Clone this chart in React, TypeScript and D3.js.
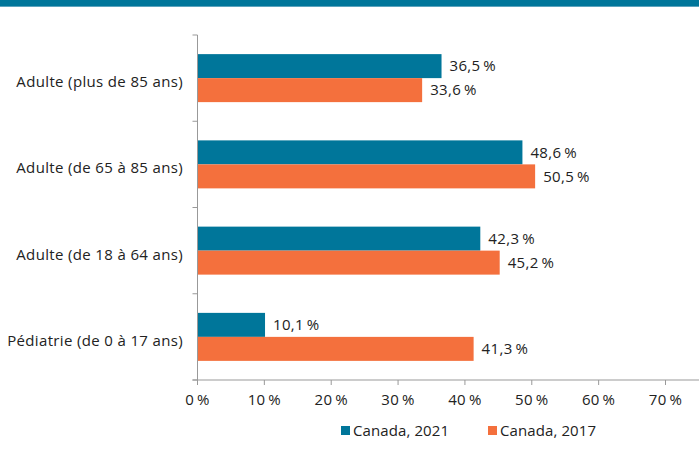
import React from "react";
import * as d3 from "d3";

const categories = [
  "Adulte (plus de 85 ans)",
  "Adulte (de 65 à 85 ans)",
  "Adulte (de 18 à 64 ans)",
  "Pédiatrie (de 0 à 17 ans)",
];
const series2021 = [36.5, 48.6, 42.3, 10.1];
const series2017 = [33.6, 50.5, 45.2, 41.3];
const seriesNames = ["Canada, 2021", "Canada, 2017"];
const xTicks = [0, 10, 20, 30, 40, 50, 60, 70];

const W = 699;
const H = 455;
const TEAL = "#00769A";
const ORANGE = "#F4703D";
const FONT = "'Open Sans', 'Liberation Sans', sans-serif";
const FS = 15;
const LS = 0.35;

const fmt = (v: number) => v.toFixed(1).replace(".", ",") + "\u2009%";

export default function App() {
  const x = d3.scaleLinear().domain([0, 70]).range([197.5, 665.5]);
  const y = d3.scaleBand<string>().domain(categories).range([35, 380]);
  const inner = d3
    .scaleBand<string>()
    .domain(seriesNames)
    .range([0, 48]);
  const groupOffset = (y.bandwidth() - 48) / 2;
  const data = [series2021, series2017];
  const colors = [TEAL, ORANGE];
  const bandTicks = [...categories.map((c) => y(c)!), 380];

  return (
    <svg
      width={W}
      height={H}
      style={{ position: "absolute", left: 0, top: 0, fontFamily: FONT }}
    >
      <rect x={0} y={0} width={W} height={6} fill={TEAL} />
      <rect x={0} y={6} width={W} height={1} fill="#5CA3BD" />

      {/* bars */}
      {categories.map((c, i) =>
        seriesNames.map((s, j) => {
          const v = data[j][i];
          const by = y(c)! + groupOffset + inner(s)!;
          return (
            <g key={c + s}>
              <rect
                x={x(0)}
                y={by}
                width={x(v) - x(0)}
                height={inner.bandwidth()}
                fill={colors[j]}
              />
              <text
                x={x(v) + 8}
                y={by + inner.bandwidth() / 2 + 5.3}
                fontSize={FS}
                letterSpacing={LS}
                fill="#222"
              >
                {fmt(v)}
              </text>
            </g>
          );
        })
      )}

      {/* y axis */}
      <line x1={x(0)} x2={x(0)} y1={35} y2={385} stroke="#999" strokeWidth={1} />
      {bandTicks.map((t, i) => (
        <line key={i} x1={x(0) - 5} x2={x(0)} y1={t} y2={t} stroke="#999" />
      ))}
      {categories.map((c) => (
        <text
          key={c}
          x={183}
          y={y(c)! + y.bandwidth() / 2 + 9}
          textAnchor="end"
          fontSize={FS}
          letterSpacing={LS}
          fill="#222"
        >
          {c}
        </text>
      ))}

      {/* x axis */}
      <line x1={x(0) - 5} x2={W} y1={380} y2={380} stroke="#999" />
      {xTicks.map((t) => (
        <g key={t}>
          <line x1={x(t)} x2={x(t)} y1={380} y2={385} stroke="#999" />
          <text
            x={x(t)}
            y={405}
            textAnchor="middle"
            fontSize={FS}
            letterSpacing={LS}
            fill="#222"
          >
            {t + "\u2009%"}
          </text>
        </g>
      ))}

      {/* legend */}
      {seriesNames.map((s, j) => {
        const lx = [341, 488][j];
        return (
          <g key={s}>
            <rect x={lx} y={426} width={9} height={9} fill={colors[j]} />
            <text x={lx + 12} y={435.5} fontSize={FS} letterSpacing={0.1} fill="#222">
              {s}
            </text>
          </g>
        );
      })}
    </svg>
  );
}
